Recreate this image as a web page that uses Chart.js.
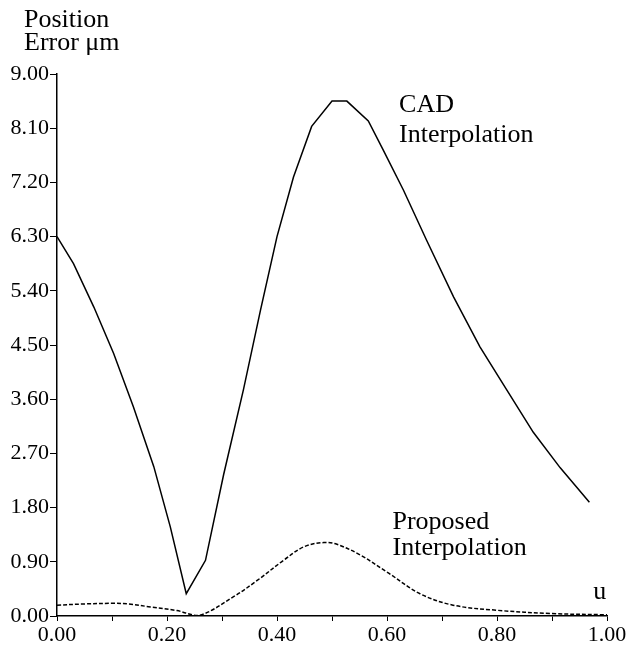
<!DOCTYPE html>
<html>
<head>
<meta charset="utf-8">
<script src="https://cdn.jsdelivr.net/npm/chart.js@4.4.1/dist/chart.umd.min.js"></script>
<style>
  html, body { margin: 0; padding: 0; background: #fff; }
  canvas { display: block; }
</style>
</head>
<body>
<canvas id="errchart" width="644" height="648"></canvas>
<script>
// u parameter and position error (um)
var cadU   = [0.000, 0.030, 0.067, 0.103, 0.139, 0.176, 0.206, 0.235, 0.270, 0.303, 0.339, 0.370, 0.400, 0.430, 0.463, 0.500, 0.527, 0.566, 0.593, 0.630, 0.672, 0.721, 0.769, 0.818, 0.866, 0.915, 0.968];
var cadErr = [6.30, 5.85, 5.13, 4.36, 3.47, 2.48, 1.48, 0.37, 0.925, 2.35, 3.76, 5.08, 6.30, 7.29, 8.13, 8.55, 8.55, 8.22, 7.74, 7.07, 6.24, 5.30, 4.47, 3.75, 3.05, 2.46, 1.89];

var propU   = [0.00, 0.05, 0.103, 0.13, 0.17, 0.218, 0.258, 0.321, 0.364, 0.412, 0.449, 0.485, 0.509, 0.55, 0.60, 0.66, 0.72, 0.80, 0.90, 1.00];
var propErr = [0.18, 0.20, 0.21, 0.20, 0.15, 0.09, 0.01, 0.32, 0.59, 0.925, 1.15, 1.22, 1.19, 1.02, 0.73, 0.37, 0.18, 0.095, 0.04, 0.02];

var yTicks = ['0.00', '0.90', '1.80', '2.70', '3.60', '4.50', '5.40', '6.30', '7.20', '8.10', '9.00'];
var xTicks = ['0.00', '0.20', '0.40', '0.60', '0.80', '1.00'];

function toPoints(xs, ys) {
    var pts = [];
    for (var i = 0; i < xs.length; i++) {
        pts.push({x: xs[i], y: ys[i]});
    }
    return pts;
}

var serif = '"Liberation Serif", "Times New Roman", serif';

// free text labels drawn at data positions
var notes = [
    {text: 'CAD', u: 0.622, v: 8.37},
    {text: 'Interpolation', u: 0.622, v: 7.87},
    {text: 'Proposed', u: 0.61, v: 1.44},
    {text: 'Interpolation', u: 0.61, v: 1.02},
    {text: 'u', u: 0.975, v: 0.29}
];

var notesPlugin = {
    id: 'notes',
    afterDraw: function(chart) {
        var ctx = chart.ctx;
        var xs = chart.scales.x, ys = chart.scales.y;
        ctx.save();
        ctx.fillStyle = '#000';
        ctx.font = '26px ' + serif;
        ctx.textAlign = 'left';
        ctx.textBaseline = 'alphabetic';
        notes.forEach(function(n) {
            ctx.fillText(n.text, xs.getPixelForValue(n.u), ys.getPixelForValue(n.v));
        });
        // axis title, top left
        ctx.fillText('Position', 24, 27);
        ctx.fillText('Error \u03bcm', 24, 50);
        ctx.restore();
    }
};

var ctx = document.getElementById('errchart');
var errChart = new Chart(ctx, {
    type: 'line',
    data: {
        datasets: [{
            label: 'CAD Interpolation',
            data: toPoints(cadU, cadErr),
            borderColor: '#000',
            borderWidth: 1.5,
            pointRadius: 0,
            tension: 0,
            fill: false
        }, {
            label: 'Proposed Interpolation',
            data: toPoints(propU, propErr),
            borderColor: '#000',
            borderWidth: 1.5,
            borderDash: [4, 2],
            pointRadius: 0,
            tension: 0.35,
            fill: false
        }]
    },
    options: {
        responsive: false,
        animation: false,
        layout: {padding: {top: 74, right: 37, bottom: 0, left: 0}},
        plugins: {
            legend: {display: false},
            tooltip: {enabled: false}
        },
        scales: {
            x: {
                type: 'linear',
                min: 0,
                max: 1,
                afterFit: function(scale) { scale.height = 32; },
                border: {display: true, color: '#000', width: 1.5},
                grid: {display: true, drawOnChartArea: false, drawTicks: true, tickLength: 5, color: '#000', lineWidth: 1},
                ticks: {
                    stepSize: 0.1,
                    autoSkip: false,
                    maxRotation: 0,
                    padding: 1,
                    color: '#000',
                    font: {family: serif, size: 22},
                    callback: function(value, index) {
                        return index % 2 === 0 ? xTicks[index / 2] : '';
                    }
                }
            },
            y: {
                min: 0,
                max: 9,
                afterFit: function(scale) { scale.width = 57; },
                border: {display: true, color: '#000', width: 1.5},
                grid: {display: true, drawOnChartArea: false, drawTicks: true, tickLength: 7, color: '#000', lineWidth: 1},
                ticks: {
                    stepSize: 0.9,
                    padding: 1,
                    color: '#000',
                    font: {family: serif, size: 22},
                    callback: function(value, index) {
                        return yTicks[index];
                    }
                }
            }
        }
    },
    plugins: [notesPlugin]
});
</script>
</body>
</html>
